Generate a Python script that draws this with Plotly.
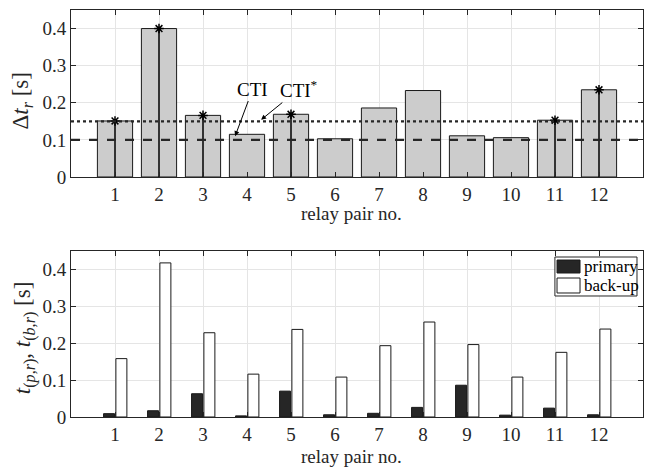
import plotly.graph_objects as go
from plotly.subplots import make_subplots

pairs = list(range(1, 13))
tick_labels = [str(i) for i in pairs]

# top: time margin between back-up and primary
delta_t = [0.151, 0.400, 0.166, 0.115, 0.169, 0.103, 0.186, 0.233, 0.111, 0.106, 0.153, 0.235]
# relay pairs marked with asterisk stems
stem_pairs = [1, 2, 3, 5, 11, 12]
stem_vals = [delta_t[p - 1] for p in stem_pairs]

CTI = 0.1
CTI_star = 0.15

# bottom: primary / back-up operating times
primary = [0.009, 0.017, 0.063, 0.003, 0.070, 0.006, 0.010, 0.026, 0.086, 0.005, 0.024, 0.006]
backup = [0.158, 0.417, 0.228, 0.116, 0.237, 0.108, 0.193, 0.257, 0.196, 0.108, 0.175, 0.238]
series_names = ["primary", "back-up"]

FAM = "Times New Roman, Liberation Serif, serif"
AX = "#262626"
GRID = "#e5e5e5"
FS = 19
YT = 23
PRIM_COLOR = "#262626"
BACK_COLOR = "white"


def F(size=FS, color=AX):
    return dict(family=FAM, size=size, color=color)


fig = make_subplots(rows=2, cols=1)

fig.add_trace(go.Bar(x=pairs, y=delta_t, width=0.8,
                     marker=dict(color="#cccccc", line=dict(color="#1a1a1a", width=1)),
                     showlegend=False), row=1, col=1)

fig.add_trace(go.Scatter(x=stem_pairs, y=stem_vals, mode="markers",
                         marker=dict(symbol="asterisk-open", size=8, color="black",
                                     line=dict(color="black", width=1.5)),
                         error_y=dict(type="data", symmetric=False,
                                      array=[0] * len(stem_vals), arrayminus=stem_vals,
                                      width=0, thickness=1.5, color="black"),
                         showlegend=False), row=1, col=1)

fig.add_trace(go.Scatter(x=[0, 13], y=[CTI, CTI], mode="lines",
                         line=dict(color=AX, width=2.2, dash="dash"),
                         showlegend=False, hoverinfo="skip"), row=1, col=1)
fig.add_trace(go.Scatter(x=[0, 13], y=[CTI_star, CTI_star], mode="lines",
                         line=dict(color=AX, width=2.2, dash="dot"),
                         showlegend=False, hoverinfo="skip"), row=1, col=1)

fig.add_trace(go.Bar(x=pairs, y=primary, name=series_names[0], width=0.25, offset=-0.26,
                     marker=dict(color=PRIM_COLOR, line=dict(color="#1a1a1a", width=1)),
                     showlegend=False),
              row=2, col=1)
fig.add_trace(go.Bar(x=pairs, y=backup, name=series_names[1], width=0.25, offset=0.02,
                     marker=dict(color=BACK_COLOR, line=dict(color="#1a1a1a", width=1)),
                     showlegend=False),
              row=2, col=1)


def xaxis(anchor):
    return dict(range=[0, 13], tickvals=pairs, ticktext=tick_labels, anchor=anchor,
                showline=True, linecolor=AX, linewidth=1, mirror="ticks",
                ticks="inside", ticklen=5, tickcolor=AX,
                showgrid=True, gridcolor=GRID, gridwidth=1, zeroline=False,
                tickfont=F())


def yaxis(dom, anchor):
    return dict(range=[0, 0.45], tickvals=[0, 0.1, 0.2, 0.3, 0.4],
                ticktext=["0", "0.1", "0.2", "0.3", "0.4"], domain=dom, anchor=anchor,
                showline=True, linecolor=AX, linewidth=1, mirror="ticks",
                ticks="inside", ticklen=5, tickcolor=AX,
                showgrid=True, gridcolor=GRID, gridwidth=1, zeroline=False,
                tickfont=F())


# CTI labels with arrows
fig.add_annotation(x=3.73, y=0.11, ax=4.13, ay=0.237, xref="x", yref="y", axref="x", ayref="y",
                   text="CTI", showarrow=True, arrowhead=2, arrowsize=1, arrowwidth=1,
                   arrowcolor="black", font=F(color="black"))
fig.add_annotation(x=4.32, y=0.154, ax=5.18, ay=0.237, xref="x", yref="y", axref="x", ayref="y",
                   text="CTI<sup>*</sup>", showarrow=True, arrowhead=2, arrowsize=1, arrowwidth=1,
                   arrowcolor="black", font=F(color="black"))

# axis titles
TOP_DOM = [0.5897, 1.0]
BOT_DOM = [0.0, 0.4086]
fig.add_annotation(x=-0.085, y=0.776, xref="paper", yref="paper", textangle=-90,
                   text="Δ<i>t</i><sub><i>r</i></sub> [s]", showarrow=False, font=F(size=YT),
                   xanchor="center", yanchor="middle")
fig.add_annotation(x=-0.082, y=0.194, xref="paper", yref="paper", textangle=-90,
                   text="<i>t</i><sub>(<i>p</i>,<i>r</i>)</sub>, <i>t</i><sub>(<i>b</i>,<i>r</i>)</sub> [s]",
                   showarrow=False, font=F(size=YT), xanchor="center", yanchor="middle")
fig.add_annotation(x=0.49, y=0.501, xref="paper", yref="paper", text="relay pair no.",
                   showarrow=False, font=F(), xanchor="center", yanchor="middle")
fig.add_annotation(x=0.49, y=-0.098, xref="paper", yref="paper", text="relay pair no.",
                   showarrow=False, font=F(), xanchor="center", yanchor="middle")

# legend (drawn by hand so the serif font is honoured)
fig.add_shape(type="rect", xref="paper", yref="paper", x0=0.846, x1=0.9895, y0=0.2973, y1=0.3931,
              line=dict(color=AX, width=1), fillcolor="white", layer="above")
legend_rows = [(0.3857, 0.3538, 0.371, PRIM_COLOR), (0.3415, 0.3047, 0.3219, BACK_COLOR)]
for name, (ya, yb, yt, col) in zip(series_names, legend_rows):
    fig.add_shape(type="rect", xref="paper", yref="paper", x0=0.8497, x1=0.8899, y0=yb, y1=ya,
                  line=dict(color="#1a1a1a", width=1), fillcolor=col, layer="above")
    fig.add_annotation(x=0.8934, y=yt, xref="paper", yref="paper", text=name, showarrow=False,
                       xanchor="left", yanchor="middle", font=F(size=17, color="black"))

fig.update_layout(width=654, height=468, margin=dict(l=71, r=11, t=10, b=51),
                  paper_bgcolor="white", plot_bgcolor="white", barmode="overlay",
                  font=F(), showlegend=False,
                  xaxis=xaxis("y"), xaxis2=xaxis("y2"),
                  yaxis=yaxis(TOP_DOM, "x"), yaxis2=yaxis(BOT_DOM, "x2"))

fig.write_html("out.html")
